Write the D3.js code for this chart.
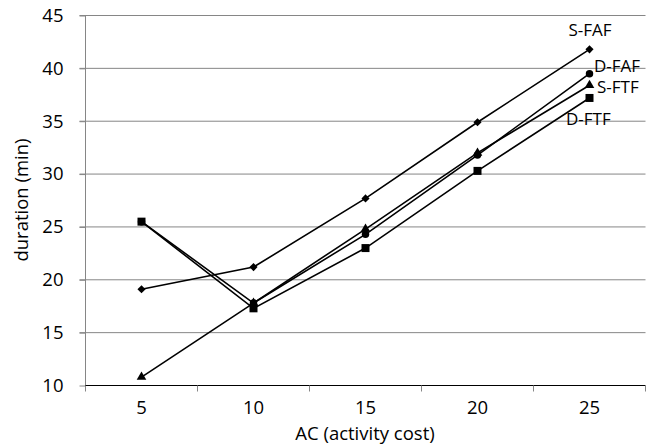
<!DOCTYPE html>
<html><head><meta charset="utf-8">
<script src="https://cdn.jsdelivr.net/npm/d3@7"></script>
<style>body{margin:0;background:#fff}svg{display:block}text{font-family:"Open Sans",sans-serif;fill:#000}</style>
</head><body><svg id="c" width="659" height="444"></svg>
<script>
const categories = [5, 10, 15, 20, 25];
const yTicks = [10, 15, 20, 25, 30, 35, 40, 45];
const seriesNames = ["S-FAF", "D-FAF", "S-FTF", "D-FTF"];
const sFAF = [19.1, 21.2, 27.7, 34.9, 41.8];
const dFAF = [25.5, 17.8, 24.3, 31.8, 39.5];
const sFTF = [10.8, 17.8, 24.8, 32.0, 38.4];
const dFTF = [25.5, 17.3, 23.0, 30.3, 37.2];
const symbols = [d3.symbolDiamond2, d3.symbolCircle, d3.symbolTriangle, d3.symbolSquare];
const symSizes = [42, 44, 40, 64];
const values = [sFAF, dFAF, sFTF, dFTF];
const labelPos = [[590, 30, "middle"], [594, 66, "start"], [597, 87, "start"], [566, 119, "start"]];

const FONT = "Open Sans", FS = 18.5, LFS = 17;
const svg = d3.select("#c");
const L = 85.5, R = 645.5, T = 15.5, B = 385.5;
const x = d3.scaleBand().domain(categories).range([L, R]);
const y = d3.scaleLinear().domain([10, 45]).range([B, T]);

// gridlines
svg.append("g").selectAll("line").data(yTicks.filter(t => t > 10)).join("line")
  .attr("x1", L - 6).attr("x2", R).attr("y1", d => y(d)).attr("y2", d => y(d))
  .attr("stroke", "#868686").attr("stroke-width", 1);
// y axis
const ya = svg.append("g").attr("transform", `translate(${L},0)`)
  .call(d3.axisLeft(y).tickValues(yTicks).tickSize(6).tickPadding(16));
ya.select(".domain").attr("d", `M0,${T}V${B + 6}`).attr("stroke", "#868686");
ya.selectAll(".tick line").attr("stroke", "#868686");
ya.selectAll("text").attr("font-size", FS).style("font-family", FONT);
// x axis
const xa = svg.append("g").attr("transform", `translate(0,${B})`)
  .call(d3.axisBottom(x).tickSize(0).tickPadding(15));
xa.select(".domain").attr("d", `M${L},0H${R}`).attr("stroke", "#000");
xa.selectAll("text").attr("font-size", FS).style("font-family", FONT);
svg.append("g").selectAll("line").data(categories).join("line")
  .attr("x1", d => x(d) + x.bandwidth()).attr("x2", d => x(d) + x.bandwidth())
  .attr("y1", B).attr("y2", B + 6).attr("stroke", "#868686");

// titles
svg.append("text").attr("x", 365).attr("y", 440).attr("text-anchor", "middle")
  .attr("font-size", FS).text("AC (activity cost)");
svg.append("text").attr("transform", "translate(28,200) rotate(-90)").attr("text-anchor", "middle")
  .attr("font-size", FS).text("duration (min)");

// series
const line = d3.line().x((d, i) => x(categories[i]) + x.bandwidth() / 2).y(d => y(d));
values.forEach((vals, s) => {
  const g = svg.append("g");
  g.append("path").attr("d", line(vals)).attr("fill", "none").attr("stroke", "#000").attr("stroke-width", 1.6);
  g.selectAll("path.m").data(vals).join("path").attr("class", "m")
    .attr("transform", (d, i) => `translate(${x(categories[i]) + x.bandwidth() / 2},${y(d)})`)
    .attr("d", d3.symbol().type(symbols[s]).size(symSizes[s])).attr("fill", "#000");
  const lp = labelPos[s];
  svg.append("text").attr("x", lp[0]).attr("y", lp[1]).attr("dy", "0.35em").attr("text-anchor", lp[2])
    .attr("font-size", LFS).text(seriesNames[s]);
});
</script></body></html>
